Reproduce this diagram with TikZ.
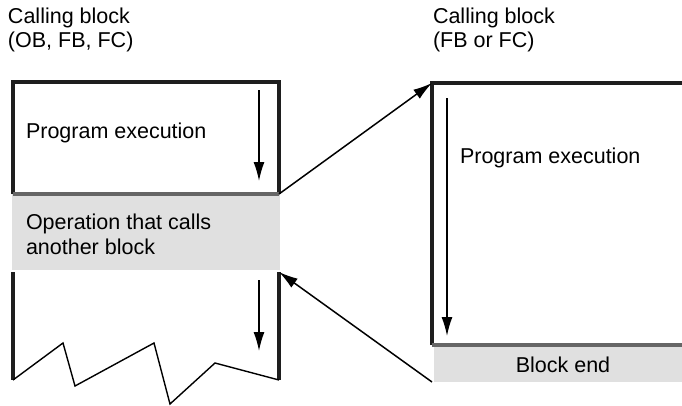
\documentclass[tikz,border=0pt]{standalone}
\usepackage{fontspec}
\setmainfont{Liberation Sans}
\usetikzlibrary{arrows.meta}
\definecolor{bandgray}{HTML}{E0E0E0}
\definecolor{sepgray}{HTML}{666666}
\definecolor{edgeblack}{HTML}{1E1E1E}
\tikzset{
  txt/.style={inner sep=0pt, outer sep=0pt, font=\fontsize{21.5}{25}\selectfont, align=left},
  band/.style={fill=bandgray, draw=none, inner sep=0pt, outer sep=0pt},
  frame/.style={draw=edgeblack, line width=3.3pt},
  sep/.style={draw=sepgray, line width=3.3pt},
  flow/.style={draw=black, line width=1.5pt, -{Latex[length=19pt,width=11pt]}},
  jag/.style={draw=black, line width=1.4pt, line join=miter},
}
\begin{document}
\begin{tikzpicture}[x=1pt,y=-1pt]
\useasboundingbox[fill=white] (0,0) rectangle (682,405);
% headers
\node[txt, anchor=west] (h1a) at (8,18) {Calling block};
\node[txt, anchor=west] (h1b) at (8,42) {(OB, FB, FC)};
\node[txt, anchor=west] (h2a) at (433,18) {Calling block};
\node[txt, anchor=west] (h2b) at (433,42) {(FB or FC)};
% left calling block, upper part
\coordinate (luTL) at (13,82);
\coordinate (luTR) at (279,82);
\coordinate (luBL) at (13,194);
\coordinate (luBR) at (279,194);
% operation band
\node[band, minimum width=268pt, minimum height=76pt] (op) at (146,232) {};
\node[txt, anchor=west] (optxt) at (26,234) {Operation that calls\\another block};
\draw[frame] (luBL) -- (luTL) -- (luTR) -- (luBR);
\draw[sep] (luBL) -- (luBR);
\node[txt, anchor=west] (pe1) at (26,133) {Program execution};
\coordinate (a1s) at (259,90);
\coordinate (a1e) at (259,181);
\draw[flow] (a1s) -- (a1e);
% lower part
\coordinate (llTL) at (13,272);
\coordinate (llTR) at (279,272);
\coordinate (z0) at (13,380);
\coordinate (z1) at (63,343);
\coordinate (z2) at (75,386);
\coordinate (z3) at (154,343);
\coordinate (z4) at (170,404);
\coordinate (z5) at (215,363);
\coordinate (z6) at (279,380);
\draw[frame] (llTL) -- (z0);
\draw[frame] (llTR) -- (z6);
\draw[jag] (z0) -- (z1) -- (z2) -- (z3) -- (z4) -- (z5) -- (z6);
\coordinate (a2s) at (259,280);
\coordinate (a2e) at (259,351);
\draw[flow] (a2s) -- (a2e);
% right called block
\coordinate (rTL) at (432,83);
\coordinate (rTR) at (682,83);
\coordinate (rBL) at (432,345);
\coordinate (rBR) at (682,345);
\node[band, minimum width=248pt, minimum height=37pt] (bend) at (558,363.5) {};
\node[txt] (betxt) at (563,365) {Block end};
\draw[frame] (rBL) -- (rTL) -- (rTR);
\draw[sep] (rBL) -- (rBR);
\node[txt, anchor=west] (pe2) at (460,158) {Program execution};
\coordinate (a3s) at (447,98);
\coordinate (a3e) at (447,336);
\draw[flow] (a3s) -- (a3e);
% connectors
\draw[flow] (luBR) -- (rTL);
\coordinate (retS) at (432,382);
\draw[flow] (retS) -- (llTR);
\end{tikzpicture}
\end{document}
